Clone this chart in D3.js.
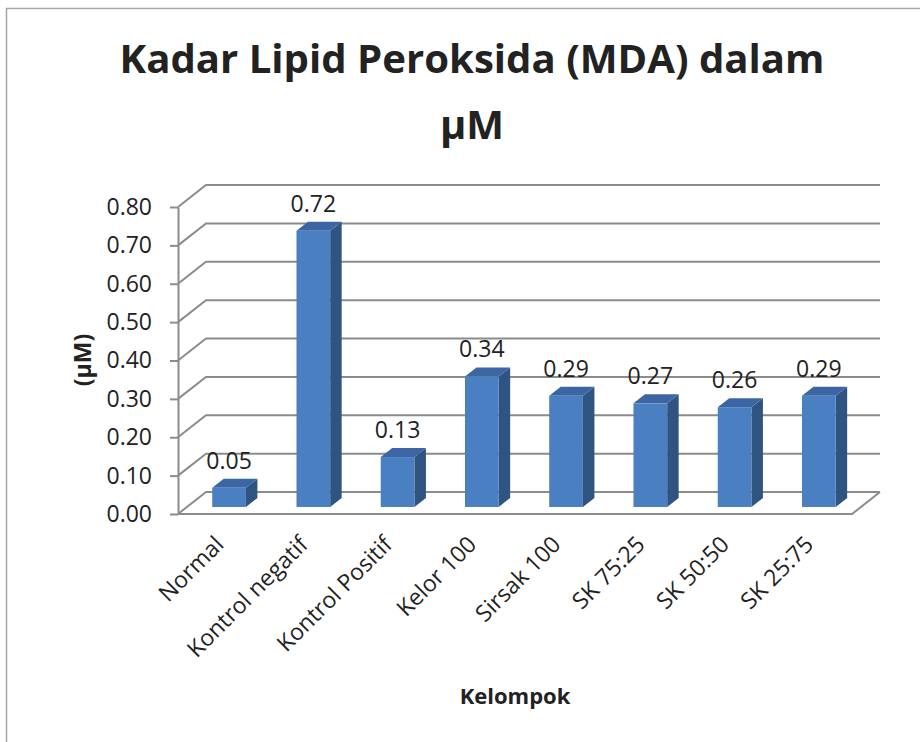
<!DOCTYPE html>
<html>
<head>
<meta charset="utf-8">
<script src="https://cdn.jsdelivr.net/npm/d3@7"></script>
<style>
  body { margin: 0; background: #fff; }
  text { font-family: "Open Sans", "DejaVu Sans", sans-serif; fill: #222; }
</style>
</head>
<body>
<svg width="920" height="742"></svg>
<script>
var categories = ["Normal", "Kontrol negatif", "Kontrol Positif", "Kelor 100",
                  "Sirsak 100", "SK 75:25", "SK 50:50", "SK 25:75"];
var values = [0.05, 0.72, 0.13, 0.34, 0.29, 0.27, 0.26, 0.29];
var yTicks = [0, 0.1, 0.2, 0.3, 0.4, 0.5, 0.6, 0.7, 0.8];
var titleLines = ["Kadar Lipid Peroksida (MDA) dalam", "\u00b5M"];

var svg = d3.select("svg");

// chart frame (runs off the right and bottom edge)
svg.append("rect")
    .attr("x", 6.5).attr("y", 8.5)
    .attr("width", 940).attr("height", 760)
    .attr("fill", "none")
    .attr("stroke", "#a6a6a6")
    .attr("stroke-width", 1.5);

var plot = { left: 178, right: 852, top: 207, bottom: 514 },
    depth = { dx: 28, dy: -22 },   // offset of the back wall
    barT0 = 0.32, barT1 = 0.73;    // bar position inside the depth

var x = d3.scaleBand()
    .domain(categories)
    .range([plot.left, plot.right])
    .paddingInner(0.6)
    .paddingOuter(0.3);

var y = d3.scaleLinear()
    .domain([0, 0.8])
    .range([plot.bottom, plot.top]);

var grid = svg.append("g")
    .attr("stroke", "#8c8c8c")
    .attr("stroke-width", 2)
    .attr("fill", "none");

// back wall gridlines + left wall diagonals
yTicks.forEach(function(t) {
    grid.append("path")
        .attr("d", "M" + plot.left + "," + y(t) +
                   "L" + (plot.left + depth.dx) + "," + (y(t) + depth.dy) +
                   "H" + (plot.right + depth.dx));
});

// floor
grid.append("path")
    .attr("d", "M" + plot.left + "," + y(0) +
               "H" + plot.right +
               "L" + (plot.right + depth.dx) + "," + (y(0) + depth.dy));

// y axis
var yAxis = d3.axisLeft(y)
    .tickValues(yTicks)
    .tickFormat(d3.format(".2f"))
    .tickSize(8)
    .tickSizeOuter(0)
    .tickPadding(18);

var ya = svg.append("g")
    .attr("transform", "translate(" + plot.left + ",0)")
    .call(yAxis);
ya.selectAll("path, line").attr("stroke", "#8c8c8c").attr("stroke-width", 2);
ya.selectAll("text")
    .attr("font-size", 23)
    .attr("fill", "#222")
    .style("font-family", "'Open Sans', sans-serif");

// bars
var bw = x.bandwidth(),
    fx = depth.dx * barT0, fy = depth.dy * barT0,
    ddx = depth.dx * (barT1 - barT0), ddy = depth.dy * (barT1 - barT0);

var bars = svg.append("g").selectAll("g")
    .data(values)
    .enter().append("g");

bars.append("polygon")
    .attr("fill", "#2f5480")
    .attr("points", function(d, i) {
        var x0 = x(categories[i]) + fx + bw, yt = y(d) + fy, yb = y(0) + fy;
        return [[x0, yt], [x0 + ddx, yt + ddy], [x0 + ddx, yb + ddy], [x0, yb]].join(" ");
    });

bars.append("polygon")
    .attr("fill", "#3b66a3")
    .attr("points", function(d, i) {
        var x0 = x(categories[i]) + fx, yt = y(d) + fy;
        return [[x0, yt], [x0 + ddx, yt + ddy], [x0 + bw + ddx, yt + ddy], [x0 + bw, yt]].join(" ");
    });

bars.append("rect")
    .attr("fill", "#4a7fc1")
    .attr("x", function(d, i) { return x(categories[i]) + fx; })
    .attr("y", function(d) { return y(d) + fy; })
    .attr("width", bw)
    .attr("height", function(d) { return y(0) - y(d); });

// data labels
bars.append("text")
    .attr("text-anchor", "middle")
    .attr("font-size", 23)
    .attr("x", function(d, i) { return x(categories[i]) + fx + bw / 2; })
    .attr("y", function(d) { return y(d) + fy + ddy - 10; })
    .text(function(d) { return d3.format(".2f")(d); });

// category labels
svg.append("g").selectAll("text")
    .data(categories)
    .enter().append("text")
    .attr("text-anchor", "end")
    .attr("font-size", 23)
    .attr("transform", function(d) {
        return "translate(" + (x(d) + bw / 2 + 5) + ",546)rotate(-45)";
    })
    .text(function(d) { return d; });

// titles
svg.append("g").selectAll("text")
    .data(titleLines)
    .enter().append("text")
    .attr("x", 472)
    .attr("y", function(d, i) { return 73 + i * 66; })
    .attr("text-anchor", "middle")
    .attr("font-size", 40)
    .attr("font-weight", "bold")
    .attr("textLength", function(d, i) { return i === 0 ? 705 : null; })
    .attr("lengthAdjust", "spacingAndGlyphs")
    .text(function(d) { return d; });

svg.append("text")
    .attr("transform", "translate(91,360)rotate(-90)")
    .attr("text-anchor", "middle")
    .attr("font-size", 23)
    .attr("font-weight", "bold")
    .text("(\u00b5M)");

svg.append("text")
    .attr("x", 515)
    .attr("y", 704)
    .attr("text-anchor", "middle")
    .attr("font-size", 22)
    .attr("font-weight", "bold")
    .text("Kelompok");
</script>
</body>
</html>
